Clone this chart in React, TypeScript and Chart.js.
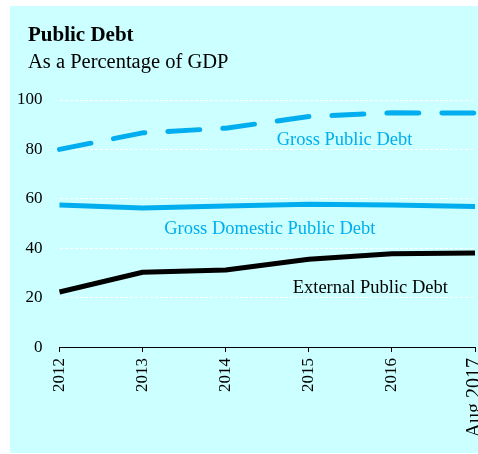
import React, { useEffect, useRef } from "react";
import { Chart, registerables } from "chart.js";

Chart.register(...registerables);

const categories = ["2012", "2013", "2014", "2015", "2016", "Aug 2017"];
const grossPublicDebt = [80, 86.7, 88.6, 93.3, 94.8, 94.7];
const grossDomesticPublicDebt = [57.5, 56.3, 57.1, 57.8, 57.5, 56.9];
const externalPublicDebt = [22.3, 30.3, 31.2, 35.5, 37.8, 38.1];
const seriesNames = ["Gross Public Debt", "Gross Domestic Public Debt", "External Public Debt"];
const yTickValues = [0, 20, 40, 60, 80, 100];
const titleText = "Public Debt";
const subtitleText = "As a Percentage of GDP";

const CYAN = "#00AEEF";
const SERIF = "'Liberation Serif', 'Times New Roman', serif";

// label anchors in data units (category index, value)
const labelAnchors = [
  { x: 3.43, y: 81.7, color: CYAN },
  { x: 2.53, y: 45.7, color: CYAN },
  { x: 3.74, y: 21.9, color: "#000" },
];

const textPlugin = {
  id: "texts",
  afterDatasetsDraw(chart: any) {
    const { ctx, scales } = chart;
    const xs = scales.x;
    const ys = scales.y;
    ctx.save();
    ctx.textBaseline = "alphabetic";
    ctx.textAlign = "left";
    ctx.fillStyle = "#000";
    ctx.font = `bold 21px ${SERIF}`;
    ctx.fillText(titleText, 28, 41);
    ctx.font = `20.5px ${SERIF}`;
    ctx.fillText(subtitleText, 28, 67.5);
    ctx.textAlign = "center";
    ctx.font = `18.5px ${SERIF}`;
    seriesNames.forEach((name, i) => {
      const a = labelAnchors[i];
      ctx.fillStyle = a.color;
      ctx.fillText(name, xs.getPixelForValue(a.x), ys.getPixelForValue(a.y));
    });
    ctx.restore();
  },
};

export default function App() {
  const ref = useRef<HTMLCanvasElement | null>(null);

  useEffect(() => {
    if (!ref.current) return;
    const chart = new Chart(ref.current, {
      type: "line",
      data: {
        labels: categories,
        datasets: [
          {
            label: seriesNames[0],
            data: grossPublicDebt,
            borderColor: CYAN,
            borderWidth: 5,
            borderDash: [32, 23],
            borderCapStyle: "round",
            borderJoinStyle: "round",
            pointRadius: 0,
            tension: 0,
            fill: false,
          },
          {
            label: seriesNames[1],
            data: grossDomesticPublicDebt,
            borderColor: CYAN,
            borderWidth: 5,
            borderCapStyle: "butt",
            borderJoinStyle: "round",
            pointRadius: 0,
            tension: 0,
            fill: false,
          },
          {
            label: seriesNames[2],
            data: externalPublicDebt,
            borderColor: "#000",
            borderWidth: 5,
            borderCapStyle: "butt",
            borderJoinStyle: "round",
            pointRadius: 0,
            tension: 0,
            fill: false,
          },
        ],
      },
      options: {
        responsive: false,
        animation: false,
        layout: { padding: { left: 0, top: 100, right: 0, bottom: 10.5 } },
        plugins: {
          legend: { display: false },
          tooltip: { enabled: false },
          title: { display: false },
        },
        scales: {
          x: {
            type: "category",
            offset: false,
            grid: {
              display: true,
              drawOnChartArea: false,
              drawTicks: true,
              tickLength: 5,
              tickColor: "#000",
              tickWidth: 1,
              color: "#000",
            },
            border: { display: true, color: "#000", width: 1 },
            ticks: {
              autoSkip: false,
              maxRotation: 90,
              minRotation: 90,
              padding: 6,
              color: "#000",
              font: (c: any) => ({ family: SERIF, size: c.index === 5 ? 20 : 17 }),
            },
          },
          y: {
            min: 0,
            max: 100,
            afterBuildTicks: (scale: any) => {
              scale.ticks = yTickValues.map((v) => ({ value: v }));
            },
            grid: {
              color: "#ffffff",
              lineWidth: 1,
              drawTicks: false,
            },
            border: { display: false, dash: [3, 2] },
            ticks: {
              padding: 17,
              color: "#000",
              font: { family: SERIF, size: 17 },
            },
          },
        },
      },
      plugins: [textPlugin],
    } as any);
    return () => chart.destroy();
  }, []);

  return (
    <div
      style={{
        position: "absolute",
        left: 0,
        top: 0,
        width: 478,
        height: 454,
        overflow: "hidden",
      }}
    >
      <div
        style={{
          position: "absolute",
          left: 10,
          top: 6,
          width: 468,
          height: 447,
          background: "#CCFFFF",
        }}
      />
      <canvas
        ref={ref}
        width={505}
        height={454}
        style={{ position: "absolute", left: 0, top: 0 }}
      />
    </div>
  );
}
